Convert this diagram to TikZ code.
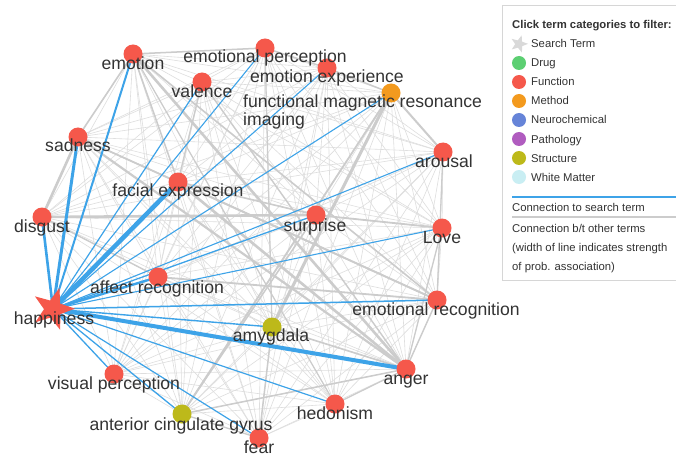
\documentclass[tikz,border=0pt]{standalone}
\usepackage{fontspec}
\setmainfont{Liberation Sans}
\usetikzlibrary{shapes.geometric}
\definecolor{fred}{HTML}{F5584B}
\definecolor{forange}{HTML}{F39A1E}
\definecolor{folive}{HTML}{BDB91A}
\definecolor{fgreen}{HTML}{5CCF72}
\definecolor{fblue}{HTML}{6684D8}
\definecolor{fpurple}{HTML}{B05CBF}
\definecolor{fwhite}{HTML}{C9EEF3}
\definecolor{eblue}{HTML}{3DA3E8}
\definecolor{egray}{HTML}{CCCCCC}
\definecolor{elight}{HTML}{DEDEDE}
\definecolor{txt}{HTML}{333333}
\pgfdeclarelayer{bg}
\pgfsetlayers{bg,main}
\begin{document}
\begin{tikzpicture}[x=1pt,y=-1pt,
  term/.style={circle, minimum size=19pt, inner sep=0pt, fill=fred},
  lbl/.style={font=\fontsize{17.6}{19}\selectfont, text=txt, inner sep=0pt, anchor=base},
  gl/.style={draw=elight, line width=0.6pt},
  gt/.style={draw=egray, line width=#1},
  bl/.style={draw=eblue, line width=#1},
  leg/.style={font=\fontsize{11.3}{13}\selectfont, text=txt, inner sep=0pt, anchor=base west},
  legdot/.style={circle, minimum size=14pt, inner sep=0pt}]
\useasboundingbox (0,0) rectangle (676,457);
% term nodes
\node[term] (emo) at (133,54) {};
\node[term] (ep) at (265,48) {};
\node[term] (val) at (202,82) {};
\node[term] (ee) at (327,68) {};
\node[term, fill=forange] (fmri) at (391,93) {};
\node[term] (sad) at (78,137) {};
\node[term] (aro) at (443,152) {};
\node[term] (fe) at (178,182) {};
\node[term] (sur) at (316,215) {};
\node[term] (dis) at (42,217) {};
\node[term] (love) at (442,228) {};
\node[term] (ar) at (158,277) {};
\node[inner sep=0pt, minimum size=0pt] (hap) at (53,309) {};
\fill[fred, shift={(hap.center)}] (-73:22) -- (-37:9) -- (-1:22) -- (-325:9) -- (-289:22) -- (-253:9)
  -- (-217:22) -- (-181:9) -- (-145:22) -- (-109:9) -- cycle;
\node[term] (er) at (437,300) {};
\node[term, fill=folive] (amy) at (272,327) {};
\node[term] (ang) at (406,369) {};
\node[term] (vp) at (114,374) {};
\node[term] (hed) at (335,404) {};
\node[term, fill=folive] (acc) at (182,414) {};
\node[term] (fear) at (259,438) {};
% edges
\begin{pgfonlayer}{bg}
\fill[white] (0,0) rectangle (676,457);
\foreach \a [count=\i] in {emo,ep,val,ee,fmri,sad,aro,fe,sur,dis,love,ar,er,amy,ang,vp,hed,acc,fear}{
  \foreach \b [count=\j] in {emo,ep,val,ee,fmri,sad,aro,fe,sur,dis,love,ar,er,amy,ang,vp,hed,acc,fear}{
    \ifnum\j>\i \draw[gl] (\a.center) -- (\b.center); \fi
  }
}
\foreach \a/\b/\w in {emo/ang/2.6pt, emo/er/1.6pt, sad/ang/2.2pt, sad/er/1.6pt, sad/dis/2.6pt, emo/sad/1.6pt,
  dis/sur/2.6pt, sur/love/1.8pt, fe/ang/2.6pt, fe/er/1.8pt, fmri/amy/3pt, fmri/acc/1.8pt, fmri/aro/2pt,
  ar/er/1.8pt, emo/ep/1.5pt, ep/ee/1.5pt, amy/ang/1.6pt, acc/ang/1.5pt, amy/fear/1.5pt, fe/sur/1.6pt,
  val/ang/1.4pt, emo/fe/1.5pt, ee/fmri/1.4pt, sad/fe/1.4pt, dis/ar/1.4pt, aro/er/1.3pt, love/ang/1.3pt,
  er/ang/1.4pt, hed/ang/1.2pt, acc/fear/1.3pt, sur/acc/1.5pt, ep/amy/1.3pt, emo/hed/1.2pt, val/fe/1.3pt}{
  \draw[gt=\w] (\a.center) -- (\b.center);
}
\foreach \b/\w in {emo/2pt, ep/1.1pt, val/1.2pt, ee/1.1pt, fmri/1.1pt, sad/3pt, aro/1.1pt, fe/4.5pt,
  sur/1.3pt, dis/2.6pt, love/1.1pt, ar/2.4pt, er/1.5pt, amy/1.4pt, ang/4pt, vp/1.3pt, hed/1.2pt, acc/1.3pt, fear/1.2pt}{
  \draw[bl=\w] (hap.center) -- (\b.center);
}
\end{pgfonlayer}
% labels
\node[lbl] (emo-l) at (133,70) {emotion};
\node[lbl] (ep-l) at (265,63) {emotional perception};
\node[lbl] (val-l) at (202,98) {valence};
\node[lbl] (ee-l) at (327,83) {emotion experience};
\node[lbl, anchor=base west] (fmri-l) at (243,108) {functional magnetic resonance};
\node[lbl, anchor=base west] (fmri-l2) at (243,126) {imaging};
\node[lbl] (sad-l) at (78,152) {sadness};
\node[lbl] (aro-l) at (444,167) {arousal};
\node[lbl] (fe-l) at (178,196) {facial expression};
\node[lbl] (sur-l) at (315,231) {surprise};
\node[lbl] (dis-l) at (42,232) {disgust};
\node[lbl] (love-l) at (442,243) {Love};
\node[lbl] (ar-l) at (157,293) {affect recognition};
\node[lbl] (hap-l) at (54,324) {happiness};
\node[lbl] (er-l) at (436,315) {emotional recognition};
\node[lbl] (amy-l) at (271,341) {amygdala};
\node[lbl] (ang-l) at (406,384) {anger};
\node[lbl] (vp-l) at (114,389) {visual perception};
\node[lbl] (hed-l) at (335,419) {hedonism};
\node[lbl] (acc-l) at (181,430) {anterior cingulate gyrus};
\node[lbl] (fear-l) at (259,453) {fear};
% legend
\draw[draw=egray!80, line width=0.8pt] (502,5) rectangle (690,280);
\node[leg, font=\fontsize{11.3}{13}\selectfont\bfseries] (lt) at (512,29) {Click term categories to filter:};
\node[inner sep=0pt, minimum size=0pt] (s0) at (519,44) {};
\fill[gray!30, shift={(s0.center)}] (-73:9) -- (-37:3.8) -- (-1:9) -- (-325:3.8) -- (-289:9) -- (-253:3.8)
  -- (-217:9) -- (-181:3.8) -- (-145:9) -- (-109:3.8) -- cycle;
\node[leg] (t0) at (531,48) {Search Term};
\node[legdot, fill=fgreen] (s1) at (519,63) {};
\node[leg] (t1) at (531,67) {Drug};
\node[legdot, fill=fred] (s2) at (519,82) {};
\node[leg] (t2) at (531,86) {Function};
\node[legdot, fill=forange] (s3) at (519,101) {};
\node[leg] (t3) at (531,105) {Method};
\node[legdot, fill=fblue] (s4) at (519,120) {};
\node[leg] (t4) at (531,124) {Neurochemical};
\node[legdot, fill=fpurple] (s5) at (519,139) {};
\node[leg] (t5) at (531,143) {Pathology};
\node[legdot, fill=folive] (s6) at (519,158) {};
\node[leg] (t6) at (531,162) {Structure};
\node[legdot, fill=fwhite] (s7) at (519,177) {};
\node[leg] (t7) at (531,181) {White Matter};
\coordinate (lb1) at (512,197);
\coordinate (lb2) at (690,197);
\draw[draw=eblue, line width=2.5pt] (lb1) -- (lb2);
\node[leg] (c1) at (512,211) {Connection to search term};
\coordinate (lg1) at (512,217);
\coordinate (lg2) at (690,217);
\draw[draw=egray, line width=2.5pt] (lg1) -- (lg2);
\node[leg] (c2) at (512,232) {Connection b/t other terms};
\node[leg] (c3) at (512,251) {(width of line indicates strength};
\node[leg] (c4) at (512,270) {of prob. association)};
\end{tikzpicture}
\end{document}
